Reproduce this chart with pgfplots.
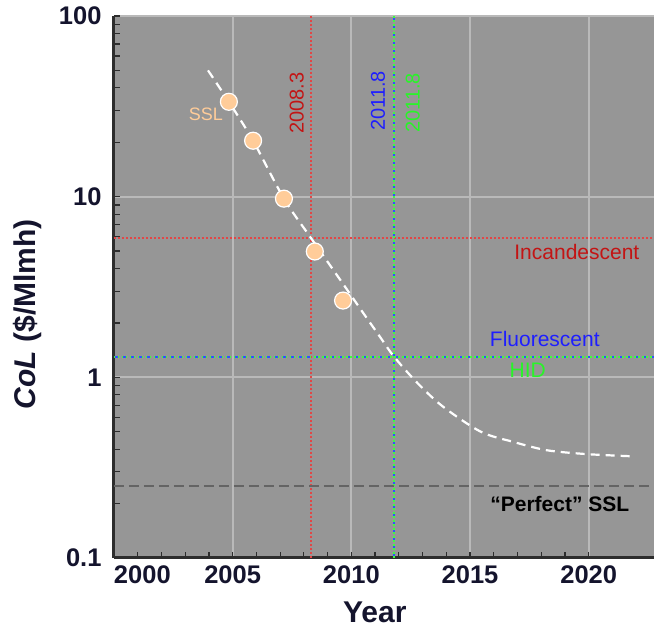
\documentclass[border=0pt]{standalone}
\usepackage{fontspec}
\setmainfont{Liberation Sans}
\usepackage{pgfplots}
\pgfplotsset{compat=1.18}
\definecolor{bg}{RGB}{150,150,150}
\definecolor{gridc}{RGB}{185,185,185}
\definecolor{axc}{RGB}{45,45,45}
\definecolor{peach}{RGB}{255,204,153}
\definecolor{redl}{RGB}{225,70,70}
\definecolor{redt}{RGB}{195,20,20}
\definecolor{bluel}{RGB}{50,80,255}
\definecolor{bluet}{RGB}{30,30,255}
\definecolor{greenl}{RGB}{60,255,60}
\definecolor{greent}{RGB}{40,245,40}
\definecolor{perf}{RGB}{100,100,100}
\definecolor{tickc}{RGB}{20,20,45}
\begin{document}
\begin{tikzpicture}
\begin{axis}[
  scale only axis, width=540pt, height=542pt,
  xmin=2000, xmax=2022.75, ymode=log, ymin=0.1, ymax=100,
  axis x line*=bottom, axis y line*=left,
  axis line style={axc, line width=3pt},
  axis background/.style={fill=bg},
  xtick={2000,2005,2010,2015,2020},
  xticklabels={\makebox[0pt][l]{2000},2005,2010,2015,2020},
  minor x tick num=4,
  ytick={0.1,1,10,100}, yticklabels={0.1,1,10,100},
  minor ytick={0.2,0.3,0.4,0.5,0.6,0.7,0.8,0.9,2,3,4,5,6,7,8,9,20,30,40,50,60,70,80,90},
  tick align=inside, major tick length=6pt, minor tick length=6pt,
  tick style={axc, line width=1.2pt},
  grid=major, major grid style={gridc, line width=2pt},
  minor grid style={draw=none},
  ticklabel style={font=\bfseries\fontsize{25.5}{25.5}\selectfont, text=tickc},
  xticklabel style={yshift=-4pt},
  yticklabel style={xshift=-9pt},
  xlabel={Year},
  ylabel={\textit{CoL} (\$/Mlmh)},
  xlabel style={font=\bfseries\fontsize{30}{30}\selectfont, text=tickc, at={(axis description cs:0.483,-0.101)}, anchor=center},
  ylabel style={font=\bfseries\fontsize{30}{30}\selectfont, text=tickc, at={(axis description cs:-0.161,0.45)}, anchor=center},
  clip=true,
]
% reference lines
\addplot[redl, line width=2pt, dash pattern=on 2pt off 2pt] coordinates {(2008.3,0.1) (2008.3,100)};
\addplot[redl, line width=2pt, dash pattern=on 2pt off 2pt] coordinates {(2000,5.9) (2022.75,5.9)};
\addplot[bluel, line width=2pt, dash pattern=on 5pt off 3pt] coordinates {(2011.8,0.1) (2011.8,100)};
\addplot[bluel, line width=2pt, dash pattern=on 5pt off 3pt] coordinates {(2000,1.3) (2022.75,1.3)};
\addplot[greenl, line width=1.8pt, dash pattern=on 1.5pt off 2.5pt] coordinates {(2011.8,0.1) (2011.8,100)};
\addplot[greenl, line width=1.8pt, dash pattern=on 1.5pt off 2.5pt] coordinates {(2000,1.3) (2022.75,1.3)};
\addplot[perf, line width=2.5pt, dash pattern=on 10pt off 5pt] coordinates {(2000,0.25) (2022.75,0.25)};
% SSL projection curve
\addplot[white, line width=2.2pt, dash pattern=on 9pt off 6pt, smooth, tension=0.5] coordinates {
(2003.96,50) (2004.84,33.5) (2005.86,20.4) (2007.16,9.75) (2008.3,5.9)
(2009.65,3.29) (2010.5,2.27) (2011.2,1.68) (2011.8,1.3) (2012.75,0.94)
(2013.85,0.69) (2015.45,0.50) (2016.8,0.44) (2018.23,0.395) (2019.9,0.376) (2021.73,0.366)};
% SSL data points
\addplot[only marks, mark=*, mark size=8.5pt, mark options={fill=peach, draw=white, line width=1.2pt}] coordinates {
(2004.84,33.5) (2005.86,20.4) (2007.16,9.75) (2008.46,4.97) (2009.65,2.66)};
% annotations
\node[text=peach, font=\fontsize{18}{18}\selectfont] at (axis cs:2003.87,28.4) {SSL};
\node[text=redt, font=\fontsize{20}{20}\selectfont, rotate=90] at (axis cs:2007.7,33) {2008.3};
\node[text=bluet, font=\fontsize{20}{20}\selectfont, rotate=90] at (axis cs:2011.12,33.9) {2011.8};
\node[text=greent, font=\fontsize{20}{20}\selectfont, rotate=90] at (axis cs:2012.59,33) {2011.8};
\node[text=redt, font=\fontsize{21}{21}\selectfont] at (axis cs:2019.5,4.97) {Incandescent};
\node[text=bluet, font=\fontsize{21}{21}\selectfont] at (axis cs:2018.15,1.62) {Fluorescent};
\node[text=greent, font=\fontsize{21}{21}\selectfont] at (axis cs:2017.43,1.09) {HID};
\node[text=black, font=\bfseries\fontsize{21}{21}\selectfont] at (axis cs:2018.78,0.2) {“Perfect” SSL};
\end{axis}
\pgfresetboundingbox
\path[use as bounding box] ([shift={(-114pt,-72pt)}]current axis.south west) rectangle ([shift={(0pt,16pt)}]current axis.north east);
\end{tikzpicture}
\end{document}
